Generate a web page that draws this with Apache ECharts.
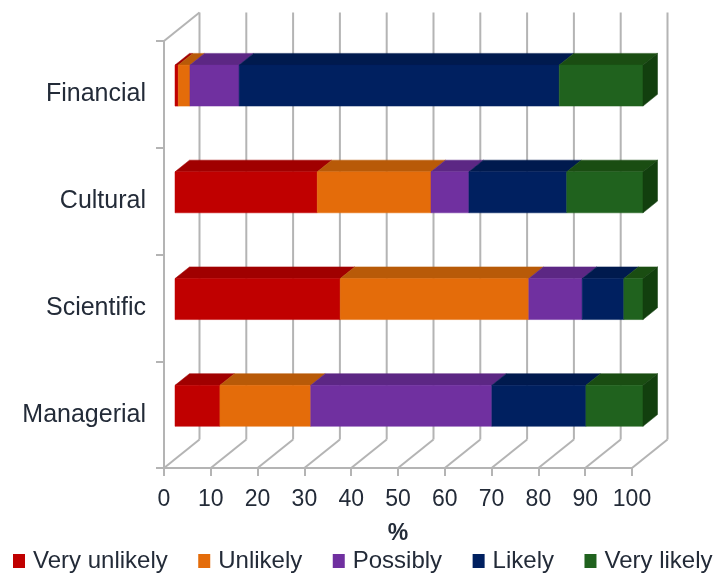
<!DOCTYPE html>
<html><head><meta charset="utf-8">
<style>html,body{margin:0;padding:0;background:#fff}#c{width:716px;height:574px}</style>
<script src="https://cdn.jsdelivr.net/npm/echarts@6/dist/echarts.min.js"></script>
</head><body><div id="c"></div>
<script>
const categories = ['Financial', 'Cultural', 'Scientific', 'Managerial'];
const xTicks = [0, 10, 20, 30, 40, 50, 60, 70, 80, 90, 100];
const veryUnlikely = [0.7, 30.4, 35.3, 9.6];
const unlikely = [2.5, 24.3, 40.3, 19.4];
const possibly = [10.5, 8.1, 11.4, 38.7];
const likely = [68.4, 20.9, 8.9, 20.1];
const veryLikely = [17.9, 16.3, 4.1, 12.2];

const seriesDefs = [
  { name: 'Very unlikely', values: veryUnlikely, front: '#c00000', top: '#a00000' },
  { name: 'Unlikely', values: unlikely, front: '#e46c0a', top: '#b85a08' },
  { name: 'Possibly', values: possibly, front: '#7030a0', top: '#5c2784' },
  { name: 'Likely', values: likely, front: '#002060', top: '#001a4e' },
  { name: 'Very likely', values: veryLikely, front: '#20621e', top: '#1a4d12', side: '#123f0e' }
];
const wallDx = 35.5, wallDy = 28.5, barDx0 = 11, barDy0 = 8.8, barDepthX = 14.5, barDepthY = 11.7, barFrac = 0.384;
const gridColor = '#b4b4b4';

const cum = categories.map(() => 0);
const stackSeries = seriesDefs.map((s, si) => {
  const data = s.values.map((v, i) => { const a = cum[i]; cum[i] += v; return [a, cum[i], i]; });
  return {
    type: 'custom', name: s.name, coordinateSystem: 'cartesian2d', z: 5, clip: false, silent: true,
    itemStyle: { color: s.front },
    encode: { x: [0, 1], y: 2 },
    data,
    renderItem(params, api) {
      const p0 = api.coord([api.value(0), api.value(2)]);
      const p1 = api.coord([api.value(1), api.value(2)]);
      const h = api.size([0, 1])[1] * barFrac;
      const x0 = p0[0] + barDx0, x1 = p1[0] + barDx0;
      const yt = p0[1] - barDy0 - h / 2, yb = yt + h;
      const poly = (pts, c) => ({ type: 'polygon', shape: { points: pts }, style: { fill: c, stroke: c, lineWidth: 0.5 } });
      const kids = [
        poly([[x0, yt], [x1, yt], [x1 + barDepthX, yt - barDepthY], [x0 + barDepthX, yt - barDepthY]], s.top),
        poly([[x0, yt], [x1, yt], [x1, yb], [x0, yb]], s.front)
      ];
      if (s.side) kids.push(poly([[x1, yt], [x1 + barDepthX, yt - barDepthY], [x1 + barDepthX, yb - barDepthY], [x1, yb]], s.side));
      return { type: 'group', children: kids };
    }
  };
});

const wallSeries = {
  type: 'custom', name: 'wall', coordinateSystem: 'cartesian2d', z: 1, clip: false, silent: true,
  encode: { x: 0, y: 1 },
  data: xTicks.map(v => [v, 0]),
  renderItem(params, api) {
    const x = api.coord([api.value(0), 0])[0];
    const top = params.coordSys.y, bottom = top + params.coordSys.height;
    const st = { stroke: gridColor, lineWidth: 2, fill: 'none' };
    const kids = [
      { type: 'line', shape: { x1: x, y1: bottom, x2: x + wallDx, y2: bottom - wallDy }, style: st },
      { type: 'line', shape: { x1: x + wallDx, y1: bottom - wallDy, x2: x + wallDx, y2: top - wallDy }, style: st }
    ];
    if (api.value(0) === xTicks[0]) kids.push({ type: 'line', shape: { x1: x, y1: top, x2: x + wallDx, y2: top - wallDy }, style: st });
    return { type: 'group', children: kids };
  }
};

const textColor = '#232b38';
const font = '"Liberation Sans", Arial, sans-serif';
const chart = echarts.init(document.getElementById('c'), null, { renderer: 'canvas' });
chart.setOption({
  animation: false,
  backgroundColor: '#fff',
  grid: { left: 164, right: 84, top: 41, bottom: 106, containLabel: false },
  xAxis: {
    type: 'value', min: 0, max: 100, interval: 10,
    name: '%', nameLocation: 'middle', nameGap: 54,
    nameTextStyle: { color: textColor, fontFamily: font, fontSize: 23, fontWeight: 'bold' },
    axisLine: { show: true, lineStyle: { color: gridColor, width: 2 } },
    axisTick: { show: true, length: 8, lineStyle: { color: gridColor, width: 2 } },
    axisLabel: { color: textColor, fontFamily: font, fontSize: 23, margin: 20 },
    splitLine: { show: false }
  },
  yAxis: {
    type: 'category', data: categories, inverse: true,
    axisLine: { show: true, onZero: false, lineStyle: { color: gridColor, width: 2 } },
    axisTick: { show: true, length: 8, alignWithLabel: false, lineStyle: { color: gridColor, width: 2 } },
    axisLabel: { color: textColor, fontFamily: font, fontSize: 25, margin: 18, padding: [5, 0, 0, 0] },
    splitLine: { show: false }
  },
  legend: {
    data: seriesDefs.map(s => s.name),
    left: 13, top: 549, width: 900, icon: 'rect', itemWidth: 12, itemHeight: 14, itemGap: 30.5,
    textStyle: { color: textColor, fontFamily: font, fontSize: 24, padding: [0, 0, 0, 3] },
    selectedMode: false, padding: 0
  },
  series: [wallSeries].concat(stackSeries)
});
</script></body></html>
